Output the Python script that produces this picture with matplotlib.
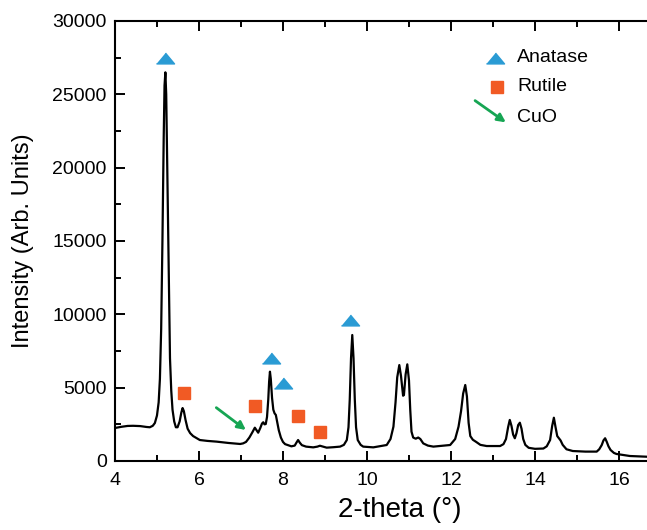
import matplotlib.pyplot as plt
from matplotlib.ticker import MultipleLocator

plt.rcParams['font.family'] = ['Liberation Sans', 'DejaVu Sans']

# XRD pattern (2-theta in degrees, intensity in arb. units)
two_theta = [4.00, 4.15, 4.30, 4.43, 4.60, 4.75, 4.83, 4.90, 4.95, 5.00, 5.04, 5.07,
             5.10, 5.13, 5.16, 5.18, 5.20, 5.22, 5.25, 5.28, 5.31, 5.34, 5.37, 5.41,
             5.45, 5.49, 5.54, 5.58, 5.61, 5.64, 5.68, 5.73, 5.79, 5.86,
             6.02, 6.20, 6.42, 6.70, 6.98, 7.05, 7.12, 7.20, 7.27, 7.33, 7.37, 7.41,
             7.46, 7.50, 7.53, 7.56, 7.59, 7.62, 7.65, 7.67, 7.69, 7.71, 7.74, 7.77,
             7.80, 7.83, 7.86, 7.90, 7.95, 8.00, 8.05, 8.20, 8.28, 8.32, 8.36, 8.40,
             8.45, 8.55, 8.72, 8.82, 8.88, 8.94, 9.04, 9.20, 9.36, 9.45, 9.52, 9.56,
             9.59, 9.62, 9.65, 9.68, 9.71, 9.74, 9.78, 9.85, 9.91, 10.15, 10.47, 10.56,
             10.63, 10.68, 10.72, 10.77, 10.81, 10.86, 10.88, 10.92, 10.96, 11.00, 11.03,
             11.06, 11.10, 11.16, 11.22, 11.27, 11.34, 11.45, 11.58, 11.98, 12.10, 12.18,
             12.24, 12.29, 12.34, 12.38, 12.42, 12.46, 12.52, 12.60, 12.70, 12.85, 13.17,
             13.25, 13.31, 13.36, 13.40, 13.44, 13.48, 13.52, 13.56, 13.60, 13.64, 13.68,
             13.72, 13.77, 13.85, 14.00, 14.20, 14.28, 14.36, 14.41, 14.45, 14.49, 14.53,
             14.57, 14.61, 14.66, 14.75, 14.90, 15.20, 15.47, 15.53, 15.59, 15.63, 15.67,
             15.71, 15.75, 15.80, 15.88, 15.94, 16.26, 16.66, 17.00]
intensity = [2250, 2330, 2390, 2400, 2380, 2320, 2300, 2400, 2590, 3100, 4000, 5600,
             9000, 15000, 22000, 25600, 26500, 25000, 19000, 12500, 7000, 4800, 3500, 2700,
             2300, 2300, 2700, 3300, 3610, 3400, 2800, 2200, 1900, 1700,
             1430, 1370, 1320, 1230, 1160, 1200, 1300, 1600, 1950, 2270, 2100, 1930,
             2250, 2550, 2640, 2500, 2520, 3000, 4200, 5400, 6090, 5600, 4300, 3500,
             3250, 3140, 2700, 2100, 1600, 1300, 1150, 1000, 1050, 1250, 1430, 1250,
             1080, 980, 930, 980, 1040, 990, 910, 940, 980, 1100, 1430, 2300,
             4200, 7000, 8590, 7000, 4200, 2300, 1430, 1100, 980, 930, 1090, 1500,
             2340, 4000, 5700, 6540, 5800, 4450, 4500, 5900, 6590, 5500, 3500,
             2000, 1600, 1520, 1600, 1500, 1200, 1050, 980, 1090, 1500, 2340,
             3400, 4600, 5180, 4400, 2600, 1700, 1450, 1300, 1100, 1020, 1020,
             1150, 1500, 2300, 2800, 2400, 1800, 1550, 1900, 2450, 2610, 2200,
             1500, 1100, 900, 830, 850, 1000, 1430, 2400, 2950, 2300, 1700,
             1550, 1400, 1100, 800, 680, 640, 640, 800, 1090, 1400, 1550,
             1300, 1000, 750, 550, 480, 340, 290, 270]

# phase markers
anatase_x = [5.19, 7.71, 7.99, 9.60]
anatase_y = [27450, 7020, 5320, 9610]
rutile_x = [5.65, 7.34, 8.36, 8.88]
rutile_y = [4660, 3750, 3070, 2000]
cuo_arrow_start = (6.36, 3750)
cuo_arrow_end = (7.17, 2000)

blue = '#2a9bd4'
orange = '#f15a24'
green = '#16a553'
tri = [(-1, -0.6), (1, -0.6), (0, 0.6)]

fig = plt.figure(figsize=(6.47, 5.30), dpi=100)
ax = fig.add_axes([0.1777, 0.1302, 0.8439, 0.8302])

ax.plot(two_theta, intensity, color='black', lw=1.6, solid_joinstyle='round')
ax.plot(anatase_x, anatase_y, ls='none', marker=tri, ms=13, color=blue)
ax.plot(rutile_x, rutile_y, ls='none', marker='s', ms=9, color=orange)
ax.annotate('', xy=cuo_arrow_end, xytext=cuo_arrow_start,
            arrowprops=dict(arrowstyle='-|>', color=green, lw=2, mutation_scale=12))

# hand-drawn legend
ax.plot([13.05], [27480], ls='none', marker=tri, ms=13, color=blue)
ax.plot([13.10], [25500], ls='none', marker='s', ms=9, color=orange)
ax.annotate('', xy=(13.36, 22980), xytext=(12.52, 24680),
            arrowprops=dict(arrowstyle='-|>', color=green, lw=2, mutation_scale=12))
ax.text(13.57, 27480, 'Anatase', fontsize=14, va='center')
ax.text(13.57, 25500, 'Rutile', fontsize=14, va='center')
ax.text(13.57, 23450, 'CuO', fontsize=14, va='center')

ax.set_xlim(4, 17)
ax.set_ylim(0, 30000)
ax.xaxis.set_major_locator(MultipleLocator(2))
ax.xaxis.set_minor_locator(MultipleLocator(1))
ax.yaxis.set_major_locator(MultipleLocator(5000))
ax.yaxis.set_minor_locator(MultipleLocator(2500))
ax.tick_params(which='both', direction='in', top=True, width=1.4, labelsize=14)
ax.tick_params(which='major', length=7, pad=6)
ax.tick_params(which='minor', length=4)
ax.tick_params(axis='x', which='major', pad=8)
for s in ax.spines.values():
    s.set_linewidth(1.5)
ax.spines['right'].set_visible(False)

ax.set_xlabel('2-theta (°)', fontsize=20)
ax.xaxis.set_label_coords(0.522, -0.082)
ax.set_ylabel('Intensity (Arb. Units)', fontsize=17)
ax.yaxis.set_label_coords(-0.148, 0.5)

fig.savefig('out.png', dpi=100)
